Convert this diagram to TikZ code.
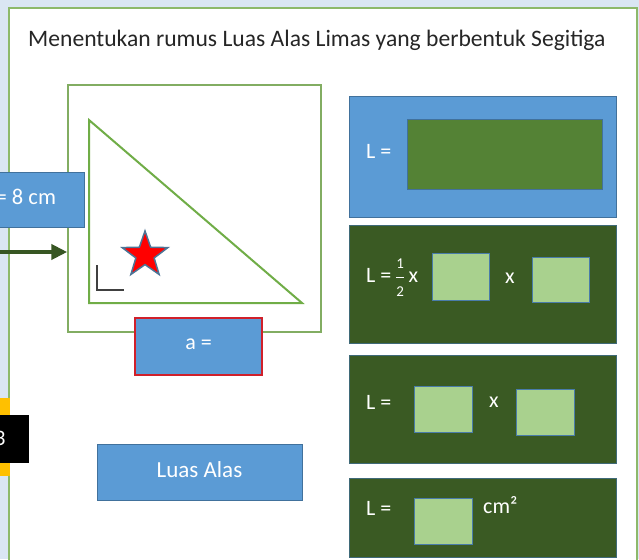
\documentclass[tikz,border=0pt]{standalone}
\usepackage{amsmath}
\usepackage{fontspec}
\setmainfont{Carlito}
\usetikzlibrary{shapes.geometric,arrows.meta}
\definecolor{bgblue}{HTML}{DAE6F3}
\definecolor{panelgreen}{HTML}{8DB96A}
\definecolor{sqgreen}{HTML}{82AD62}
\definecolor{trigreen}{HTML}{70AD47}
\definecolor{boxblue}{HTML}{5B9BD5}
\definecolor{boxblueedge}{HTML}{41719C}
\definecolor{darkgreen}{HTML}{3A5A23}
\definecolor{midgreen}{HTML}{548235}
\definecolor{lightgreen}{HTML}{A9D18E}
\definecolor{arrowgreen}{HTML}{375623}
\definecolor{rededge}{HTML}{D0202A}
\definecolor{gold}{HTML}{FFC000}
\newcommand{\smalldigit}[1]{\mbox{\fontsize{15}{15}\selectfont #1}}
\tikzset{
  bluebox/.style={rectangle, fill=boxblue, draw=boxblueedge, line width=1pt, inner sep=0pt},
  greenpanel/.style={rectangle, fill=darkgreen, draw=boxblueedge!70!darkgreen, line width=1pt, inner sep=0pt},
  lgbox/.style={rectangle, fill=lightgreen, draw=boxblue!80!black, line width=1pt, inner sep=0pt},
  ptext/.style={text=white, font=\fontsize{22}{24}\selectfont, inner sep=0pt},
  arrowst/.style={draw=arrowgreen, line width=4pt, -{Triangle[length=16pt,width=15pt]}},
}
\begin{document}
\begin{tikzpicture}[x=1pt,y=-1pt]
\useasboundingbox (0,0) rectangle (639,559);
\fill[bgblue] (0,0) rectangle (639,559);
% main panel
\filldraw[fill=white, draw=panelgreen, line width=2pt] (9,8) rectangle (637,575);
% title
\node[anchor=west, inner sep=0pt, font=\fontsize{23.6}{25}\selectfont, text=black!85] (title) at (28,40) {Menentukan rumus Luas Alas Limas yang berbentuk Segitiga};
% square and triangle
\node[rectangle, draw=sqgreen, line width=1.5pt, minimum width=253pt, minimum height=247pt, inner sep=0pt] (sq) at (194.5,208.5) {};
\draw[trigreen, line width=2pt, line join=miter] (89,120) -- (89,303) -- (302,303) -- cycle;
\draw[black!75, line width=1.3pt] (97,265) -- (97,290) -- (124,290);
\node[star, star points=5, star point ratio=2.5, minimum size=48pt, inner sep=0pt, fill=red, draw=boxblueedge!80!gray, line width=1.5pt] (star) at (145,255) {};
% left boxes
\node[bluebox, minimum width=104pt, minimum height=55pt] (tbox) at (32,199.5) {};
\node[anchor=west, text=white, font=\fontsize{22.5}{24}\selectfont, inner sep=0pt] (ttext) at (-4.5,197) {= 8 cm};
\coordinate (arrstart) at (-5,252);
\draw[arrowst] (arrstart) -- (arrstart -| sq.west);
\node[rectangle, fill=boxblue, draw=rededge, line width=2pt, minimum width=127pt, minimum height=57pt, inner sep=0pt] (abox) at (198.5,346.5) {};
\node[ptext] (atext) at (198.5,344) {a =};
\fill[gold] (-5,398) rectangle (10,476);
\node[rectangle, fill=black, minimum width=49pt, minimum height=48pt, inner sep=0pt] (blk) at (4.5,439) {};
\node[text=white, font=\fontsize{22}{24}\selectfont, inner sep=0pt] (blktext) at (0,438) {3};
\node[bluebox, minimum width=205pt, minimum height=56pt] (luas) at (199.5,472) {};
\node[text=white, font=\fontsize{23}{25}\selectfont, inner sep=0pt] (luastext) at (199.5,470) {Luas Alas};
% panel 1
\node[bluebox, minimum width=267pt, minimum height=120pt] (p1) at (482.5,157) {};
\node[rectangle, fill=midgreen, draw=boxblueedge, line width=1pt, minimum width=195pt, minimum height=70pt, inner sep=0pt] (p1g) at (504.5,154) {};
\node[ptext, anchor=west] (p1t) at (366,151) {L =};
% panel 2
\node[greenpanel, minimum width=267pt, minimum height=118pt] (p2) at (482.5,284) {};
\node[ptext, anchor=west] (p2t) at (366,278) {L =\,$\genfrac{}{}{0.8pt}{0}{\smalldigit{1}}{\smalldigit{2}}$\,x};
\node[lgbox, minimum width=57pt, minimum height=47pt] (b2a) at (460.5,276.5) {};
\node[ptext] (x2) at (510,278) {x};
\node[lgbox, minimum width=57pt, minimum height=45pt] (b2b) at (560.5,279.5) {};
% panel 3
\node[greenpanel, minimum width=267pt, minimum height=108pt] (p3) at (482.5,409) {};
\node[ptext, anchor=west] (p3t) at (366,402) {L =};
\node[lgbox, minimum width=58pt, minimum height=46pt] (b3a) at (443,409) {};
\node[ptext] (x3) at (494,402) {x};
\node[lgbox, minimum width=58pt, minimum height=46pt] (b3b) at (545,412) {};
% panel 4
\node[greenpanel, minimum width=267pt, minimum height=79pt] (p4) at (482.5,517.5) {};
\node[ptext, anchor=west] (p4t) at (366,508) {L =};
\node[lgbox, minimum width=58pt, minimum height=46pt] (b4) at (443,521) {};
\node[ptext, anchor=west] (cm) at (483,505) {cm²};
\end{tikzpicture}
\end{document}
